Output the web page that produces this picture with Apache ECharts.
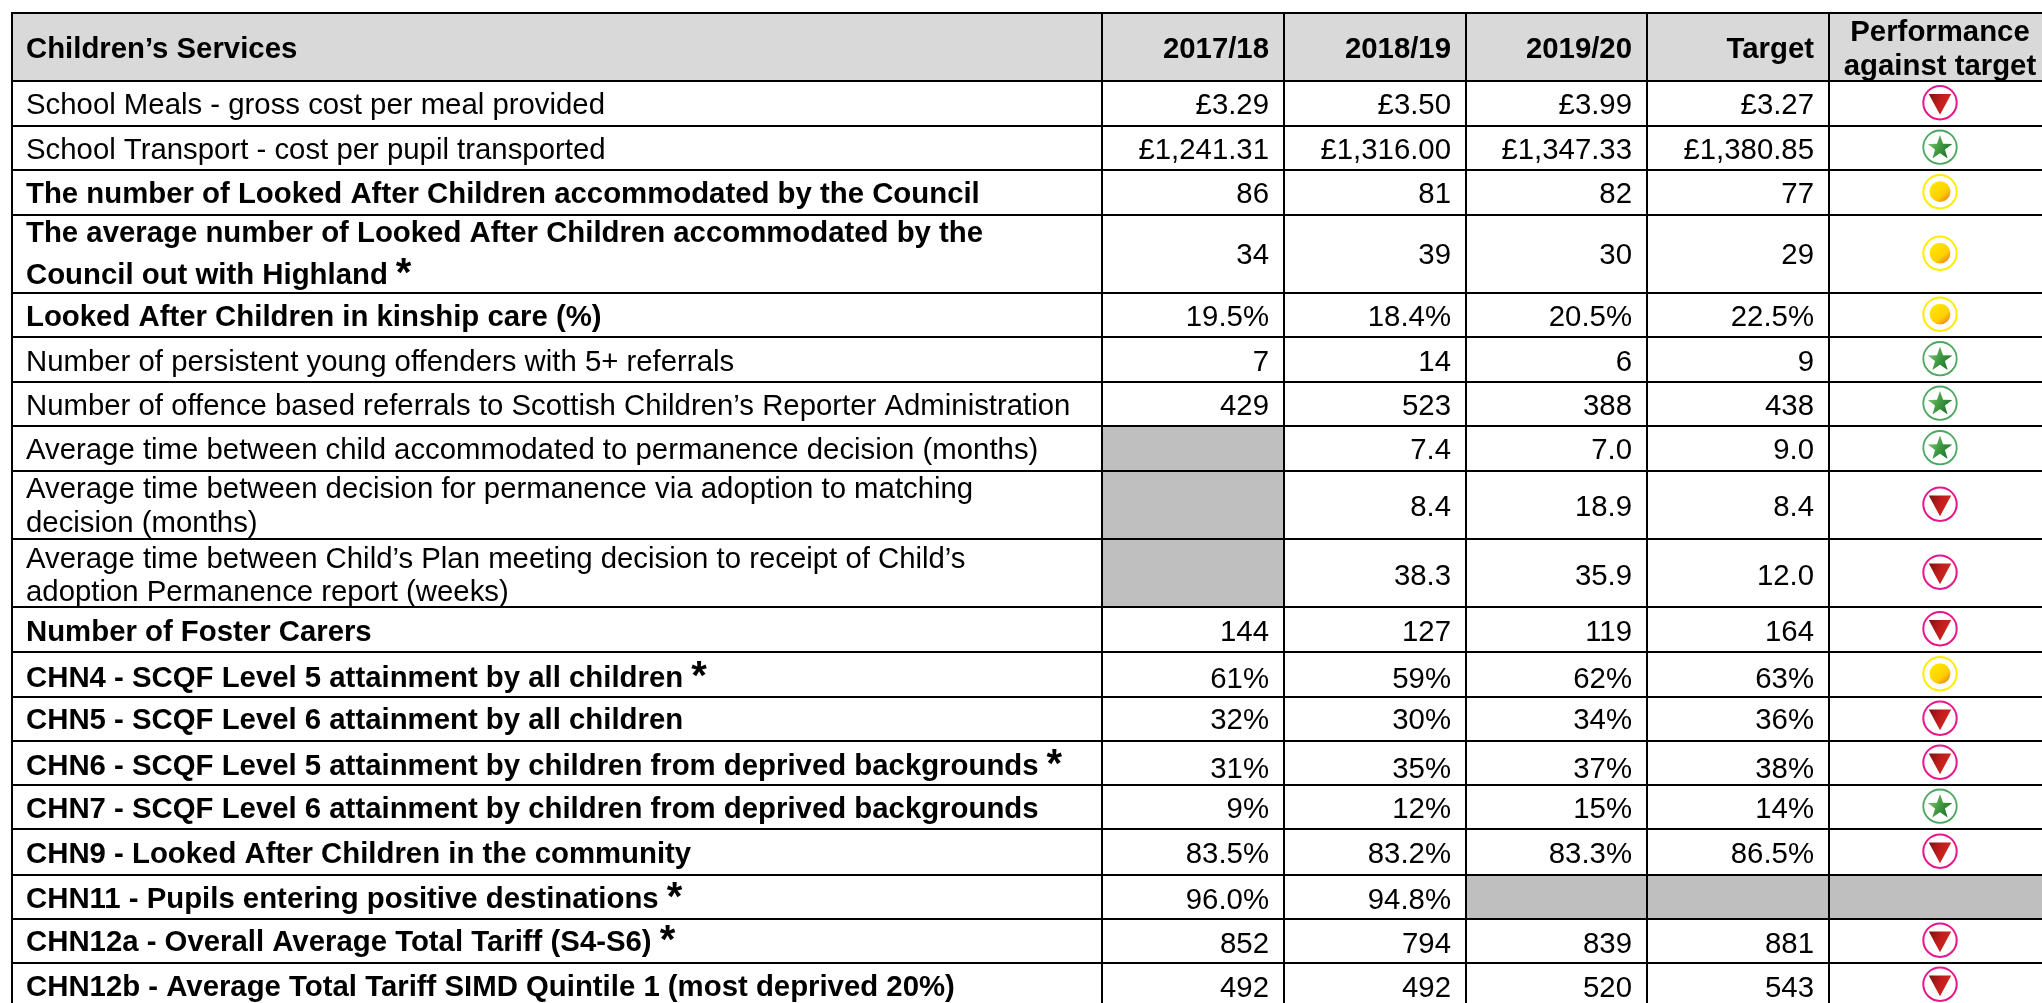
<!DOCTYPE html>
<html>
<head>
<meta charset="utf-8">
<title>Children's Services</title>
<style>html,body{margin:0;padding:0;background:#fff}#chart{width:2042px;height:1003px}</style>
<script src="https://cdn.jsdelivr.net/npm/echarts@6/dist/echarts.min.js"></script>
</head>
<body>
<div id="chart"></div>
<script>
// ---- table content ----
const title = "Children\u2019s Services";
const columnHeads = ["2017/18", "2018/19", "2019/20", "Target"];
const performanceHead = ["Performance", "against target"];
const measures = [
  "School Meals - gross cost per meal provided",
  "School Transport - cost per pupil transported",
  "The number of Looked After Children accommodated by the Council",
  "The average number of Looked After Children accommodated by the\nCouncil out with Highland *",
  "Looked After Children in kinship care (%)",
  "Number of persistent young offenders with 5+ referrals",
  "Number of offence based referrals to Scottish Children\u2019s Reporter Administration",
  "Average time between child accommodated to permanence decision (months)",
  "Average time between decision for permanence via adoption to matching\ndecision (months)",
  "Average time between Child\u2019s Plan meeting decision to receipt of Child\u2019s\nadoption Permanence report (weeks)",
  "Number of Foster Carers",
  "CHN4 - SCQF Level 5 attainment by all children *",
  "CHN5 - SCQF Level 6 attainment by all children",
  "CHN6 - SCQF Level 5 attainment by children from deprived backgrounds *",
  "CHN7 - SCQF Level 6 attainment by children from deprived backgrounds",
  "CHN9 - Looked After Children in the community",
  "CHN11 - Pupils entering positive destinations *",
  "CHN12a - Overall Average Total Tariff (S4-S6) *",
  "CHN12b - Average Total Tariff SIMD Quintile 1 (most deprived 20%)"
];
const boldMeasures = [0,0,1,1,1,0,0,0,0,0,1,1,1,1,1,1,1,1,1];
const values1718 = ["£3.29","£1,241.31","86","34","19.5%","7","429",null,null,null,"144","61%","32%","31%","9%","83.5%","96.0%","852","492"];
const values1819 = ["£3.50","£1,316.00","81","39","18.4%","14","523","7.4","8.4","38.3","127","59%","30%","35%","12%","83.2%","94.8%","794","492"];
const values1920 = ["£3.99","£1,347.33","82","30","20.5%","6","388","7.0","18.9","35.9","119","62%","34%","37%","15%","83.3%",null,"839","520"];
const targets    = ["£3.27","£1,380.85","77","29","22.5%","9","438","9.0","8.4","12.0","164","63%","36%","38%","14%","86.5%",null,"881","543"];
const performance = ["red","green","amber","amber","amber","green","green","green","red","red","red","amber","red","red","green","red",null,"red","red"];

// ---- layout (page units on the hidden axes) ----
const colEdges = [12, 1102, 1284, 1466, 1647, 1829, 2042];
const rowEdges = [13, 81, 126, 170, 215, 293, 337, 382, 426, 471, 539, 607, 652, 697, 741, 785, 829, 875, 919, 963, 1007];
const rowBaselines = [113,158,202,263,325,370,414,458,515,584,640,687,728,777,817,862,908,952,996];
const labelBaselines = [113,158,202,263,325,370,414,458,515,584,640,686,728,774,817,862,907,950,995];
const multiLineBaselines = {3:[241,283], 8:[497,531], 9:[567,600]};
const FONT = '"Liberation Sans", Arial, sans-serif';
const FS = 29.35;
const MID = 0.225;   // em distance from text middle to alphabetic baseline

const valueColumns = [values1718, values1819, values1920, targets];
const nRows = measures.length;
const measureCtx = document.createElement('canvas').getContext('2d');

function textEl(api, text, x, baseline, opts) {
  const fs = opts.size || FS;
  const p = api.coord([x, baseline - MID * fs]);
  return { type:'text', silent:true, style:{
    text, x:p[0], y:p[1], fill:'#000', fontFamily:FONT, fontSize:fs,
    fontWeight:opts.bold ? 'bold' : 'normal', align:opts.align || 'left', verticalAlign:'middle'
  }};
}
function rectEl(api, x0, y0, x1, y1, fill) {
  const a = api.coord([x0, y0]), b = api.coord([x1, y1]);
  return { type:'rect', silent:true, shape:{x:a[0], y:a[1], width:b[0]-a[0], height:b[1]-a[1]}, style:{fill} };
}
function grad(x0, y0, x1, y1, stops) {
  return new echarts.graphic.LinearGradient(x0, y0, x1, y1, stops.map((c,i)=>({offset:c[0], color:c[1]})));
}

// fills: header band + no-data cells
const fillData = [];
fillData.push([-1, -1]);
for (let r = 0; r < nRows; r++) {
  valueColumns.forEach((col, c) => { if (col[r] === null) fillData.push([r, c]); });
  if (performance[r] === null) fillData.push([r, 4]);
}
// text
const textData = [];
textData.push([-1, -1]);
columnHeads.forEach((h, c) => textData.push([-1, c]));
textData.push([-1, 4]);
for (let r = 0; r < nRows; r++) {
  textData.push([r, -1]);
  valueColumns.forEach((col, c) => { if (col[r] !== null) textData.push([r, c]); });
}
const iconData = [];
performance.forEach((p, r) => { if (p) iconData.push([r, 0]); });

function renderFill(params, api) {
  const r = api.value(0), c = api.value(1);
  if (r < 0) return rectEl(api, colEdges[0], rowEdges[0], colEdges[6], rowEdges[1], '#d9d9d9');
  return rectEl(api, colEdges[c+1], rowEdges[r+1], colEdges[c+2], rowEdges[r+2], '#bfbfbf');
}
function renderRule(params, api) {
  const kind = api.value(0), i = api.value(1), w = 2;
  if (kind === 0) {
    const y = rowEdges[i];
    return rectEl(api, colEdges[0]-1, y-w/2, 2042, y+w/2, '#000');
  }
  const x = colEdges[i];
  return rectEl(api, x-w/2, rowEdges[0], x+w/2, 1003, '#000');
}
function renderText(params, api) {
  const r = api.value(0), c = api.value(1);
  const children = [];
  if (r < 0) {
    if (c < 0) children.push(textEl(api, title, 26, 57, {bold:true}));
    else if (c < 4) children.push(textEl(api, columnHeads[c], colEdges[c+2]-15, 57, {bold:true, align:'right'}));
    else {
      children.push(textEl(api, performanceHead[0], 1940, 40, {bold:true, align:'center'}));
      children.push(textEl(api, performanceHead[1], 1940, 74, {bold:true, align:'center'}));
    }
    return {type:'group', children};
  }
  if (c >= 0) {
    children.push(textEl(api, valueColumns[c][r], colEdges[c+2]-15, rowBaselines[r], {align:'right'}));
    return {type:'group', children};
  }
  const bold = !!boldMeasures[r];
  const lines = measures[r].split('\n');
  lines.forEach((ln, k) => {
    const base = multiLineBaselines[r] ? multiLineBaselines[r][k] : labelBaselines[r];
    let t = ln, star = false;
    if (t.endsWith(' *')) { t = t.slice(0, -2); star = true; }
    children.push(textEl(api, t, 26, base, {bold}));
    if (star) {
      measureCtx.font = (bold ? 'bold ' : '') + FS + 'px ' + FONT;
      const w = measureCtx.measureText(t).width;
      children.push(textEl(api, '*', 26 + w + 8, base + 1, {bold, size:40}));
    }
  });
  return {type:'group', children};
}
function renderIcon(params, api) {
  const r = api.value(0);
  const kind = performance[r];
  const cy = (rowEdges[r+1] + rowEdges[r+2]) / 2 - 0.8, cx = 1940;
  const c = api.coord([cx, cy]);
  const ringCol = {red:'#e8168c', green:'#4aa860', amber:'#ffec00'}[kind];
  const children = [{type:'circle', silent:true, shape:{cx:c[0], cy:c[1], r:16.7},
    style:{fill:'#fff', stroke:ringCol, lineWidth:kind==='green' ? 1.8 : 2}}];
  if (kind === 'red') {
    children.push({type:'polygon', silent:true, shape:{points:[[c[0]-11.2,c[1]-8.8],[c[0]+11.2,c[1]-8.8],[c[0],c[1]+12]]},
      style:{fill:grad(0,0,1,0.4,[[0,'#74140f'],[0.5,'#bd1c1c'],[1,'#d42822']])}});
  } else if (kind === 'green') {
    const pts = [];
    for (let i = 0; i < 10; i++) {
      const rad = i % 2 ? 5.2 : 13, a = -Math.PI/2 + i*Math.PI/5;
      pts.push([c[0] + rad*Math.cos(a), c[1] + 0.8 + rad*Math.sin(a)]);
    }
    children.push({type:'polygon', silent:true, shape:{points:pts},
      style:{fill:grad(0,0.2,1,0.7,[[0,'#8ccb7e'],[0.5,'#3f9a42'],[1,'#1f6e2c']])}});
  } else {
    children.push({type:'circle', silent:true, shape:{cx:c[0], cy:c[1], r:10.4},
      style:{fill:grad(0.1,0.1,0.85,0.95,[[0,'#ffe800'],[0.65,'#ffcf00'],[1,'#e5831f']])}});
  }
  return {type:'group', children};
}

const ruleData = [];
rowEdges.slice(0, -1).forEach((y, i) => ruleData.push([0, i]));
colEdges.slice(0, -1).forEach((x, i) => ruleData.push([1, i]));

const chart = echarts.init(document.getElementById('chart'), null, {width:2042, height:1003});
const base = {type:'custom', coordinateSystem:'cartesian2d', silent:true, animation:false, clip:false,
              encode:{x:0, y:1}};
chart.setOption({
  animation:false,
  backgroundColor:'#fff',
  grid:{left:0, right:0, top:0, bottom:0},
  xAxis:{type:'value', min:0, max:2042, show:false},
  yAxis:{type:'value', min:0, max:1003, inverse:true, show:false},
  series:[
    Object.assign({}, base, {name:'fills', data:fillData, renderItem:renderFill}),
    Object.assign({}, base, {name:'rules', data:ruleData, renderItem:renderRule}),
    Object.assign({}, base, {name:'text', data:textData, renderItem:renderText}),
    Object.assign({}, base, {name:'performance', data:iconData, renderItem:renderIcon})
  ]
});
</script>
</body>
</html>
